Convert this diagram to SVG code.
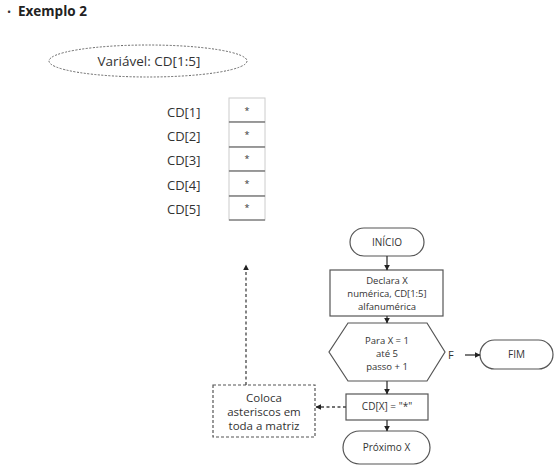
<svg xmlns="http://www.w3.org/2000/svg" width="558" height="472" viewBox="0 0 558 472">
<style>
text{font-family:"Open Sans","DejaVu Sans",sans-serif;fill:#333}
.t{font-size:10px;text-anchor:middle}
.s{font-size:9.5px;text-anchor:middle}
.lbl{font-size:13px}
.shape{fill:#fff;stroke:#555;stroke-width:1.2}
.dash{fill:#fff;stroke:#555;stroke-width:1.2;stroke-dasharray:3,2}
.edash{fill:#fff;stroke:#666;stroke-width:1;stroke-dasharray:2,1.5}
.con{fill:none;stroke:#333;stroke-width:1.3}
.dcon{fill:none;stroke:#444;stroke-width:1.3;stroke-dasharray:3,2.5}
.cell{fill:#fff;stroke:#ccc;stroke-width:1}
.cellb{stroke:#555;stroke-width:1.2}
</style>
<defs>
<marker id="ah" viewBox="0 0 10 10" refX="9" refY="5" markerWidth="6" markerHeight="6" orient="auto" markerUnits="userSpaceOnUse">
<path d="M0,0 L10,5 L0,10 z" fill="#222"/>
</marker>
</defs>
<rect width="558" height="472" fill="#fff"/>
<g id="title">
<text x="7" y="16" style="font-size:11px">•</text>
<text x="18" y="16" style="font-size:13.5px;font-weight:bold;fill:#222">Exemplo 2</text>
</g>
<g id="variavel">
<ellipse cx="148" cy="61" rx="99" ry="16" class="edash"/>
<text x="149" y="66" class="lbl" text-anchor="middle" style="font-size:13.5px">Variável: CD[1:5]</text>
</g>
<g id="array">
<rect x="229" y="98" width="36" height="24" class="cell"/>
<rect x="229" y="122" width="36" height="25" class="cell"/>
<rect x="229" y="147" width="36" height="24" class="cell"/>
<rect x="229" y="171" width="36" height="25" class="cell"/>
<rect x="229" y="196" width="36" height="24" class="cell"/>
<line x1="229" y1="122" x2="265" y2="122" class="cellb"/>
<line x1="229" y1="147" x2="265" y2="147" class="cellb"/>
<line x1="229" y1="171" x2="265" y2="171" class="cellb"/>
<line x1="229" y1="196" x2="265" y2="196" class="cellb"/>
<line x1="229" y1="220" x2="265" y2="220" class="cellb"/>
<g style="font-size:9px" text-anchor="middle">
<text x="247" y="114">*</text>
<text x="247" y="138">*</text>
<text x="247" y="162">*</text>
<text x="247" y="187">*</text>
<text x="247" y="211">*</text>
</g>
<text x="167" y="117" class="lbl">CD[1]</text>
<text x="167" y="141" class="lbl">CD[2]</text>
<text x="167" y="165" class="lbl">CD[3]</text>
<text x="167" y="190" class="lbl">CD[4]</text>
<text x="167" y="214" class="lbl">CD[5]</text>
</g>
<g id="inicio">
<rect x="350" y="228" width="74" height="28" rx="14" class="shape"/>
<text x="387" y="245.5" class="t">INÍCIO</text>
</g>
<g id="declara">
<rect x="330" y="270" width="113" height="46" class="shape"/>
<text x="387" y="284" class="s">Declara X</text>
<text x="387" y="297" class="s">numérica, CD[1:5]</text>
<text x="387" y="310" class="s">alfanumérica</text>
</g>
<g id="para">
<polygon points="348,323 427,323 445,352 427,381 348,381 329,352" class="shape"/>
<text x="387" y="344" class="s">Para X = 1</text>
<text x="387" y="357" class="s">até  5</text>
<text x="387" y="370" class="s">passo + 1</text>
</g>
<g id="fim">
<rect x="480" y="340" width="73" height="29" rx="14.5" class="shape"/>
<text x="516.5" y="358" class="t">FIM</text>
</g>
<g id="cdx">
<rect x="346" y="394" width="82" height="26" class="shape"/>
<text x="387" y="410" class="t">CD[X] = "*"</text>
</g>
<g id="proximo">
<rect x="343" y="431" width="87" height="33" rx="16.5" class="shape"/>
<text x="386.5" y="451" class="t">Próximo X</text>
</g>
<g id="coloca">
<rect x="213" y="385" width="102" height="52" class="dash"/>
<text x="264" y="402" class="t" style="font-size:11.5px">Coloca</text>
<text x="264" y="416" class="t" style="font-size:11.5px">asteriscos em</text>
<text x="264" y="430" class="t" style="font-size:11.5px">toda a matriz</text>
</g>
<g id="connectors">
<line x1="387" y1="256" x2="387" y2="270" class="con" marker-end="url(#ah)"/>
<line x1="387" y1="316" x2="387" y2="323" class="con" marker-end="url(#ah)"/>
<line x1="387" y1="381" x2="387" y2="394" class="con" marker-end="url(#ah)"/>
<line x1="387" y1="420" x2="387" y2="431" class="con" marker-end="url(#ah)"/>
<line x1="465" y1="355" x2="480" y2="355" class="con" marker-end="url(#ah)"/>
<text x="448" y="359" style="font-size:11px">F</text>
<line x1="346" y1="407" x2="316" y2="407" class="dcon" marker-end="url(#ah)"/>
<line x1="246" y1="385" x2="246" y2="265" class="dcon" marker-end="url(#ah)"/>
</g>
</svg>
